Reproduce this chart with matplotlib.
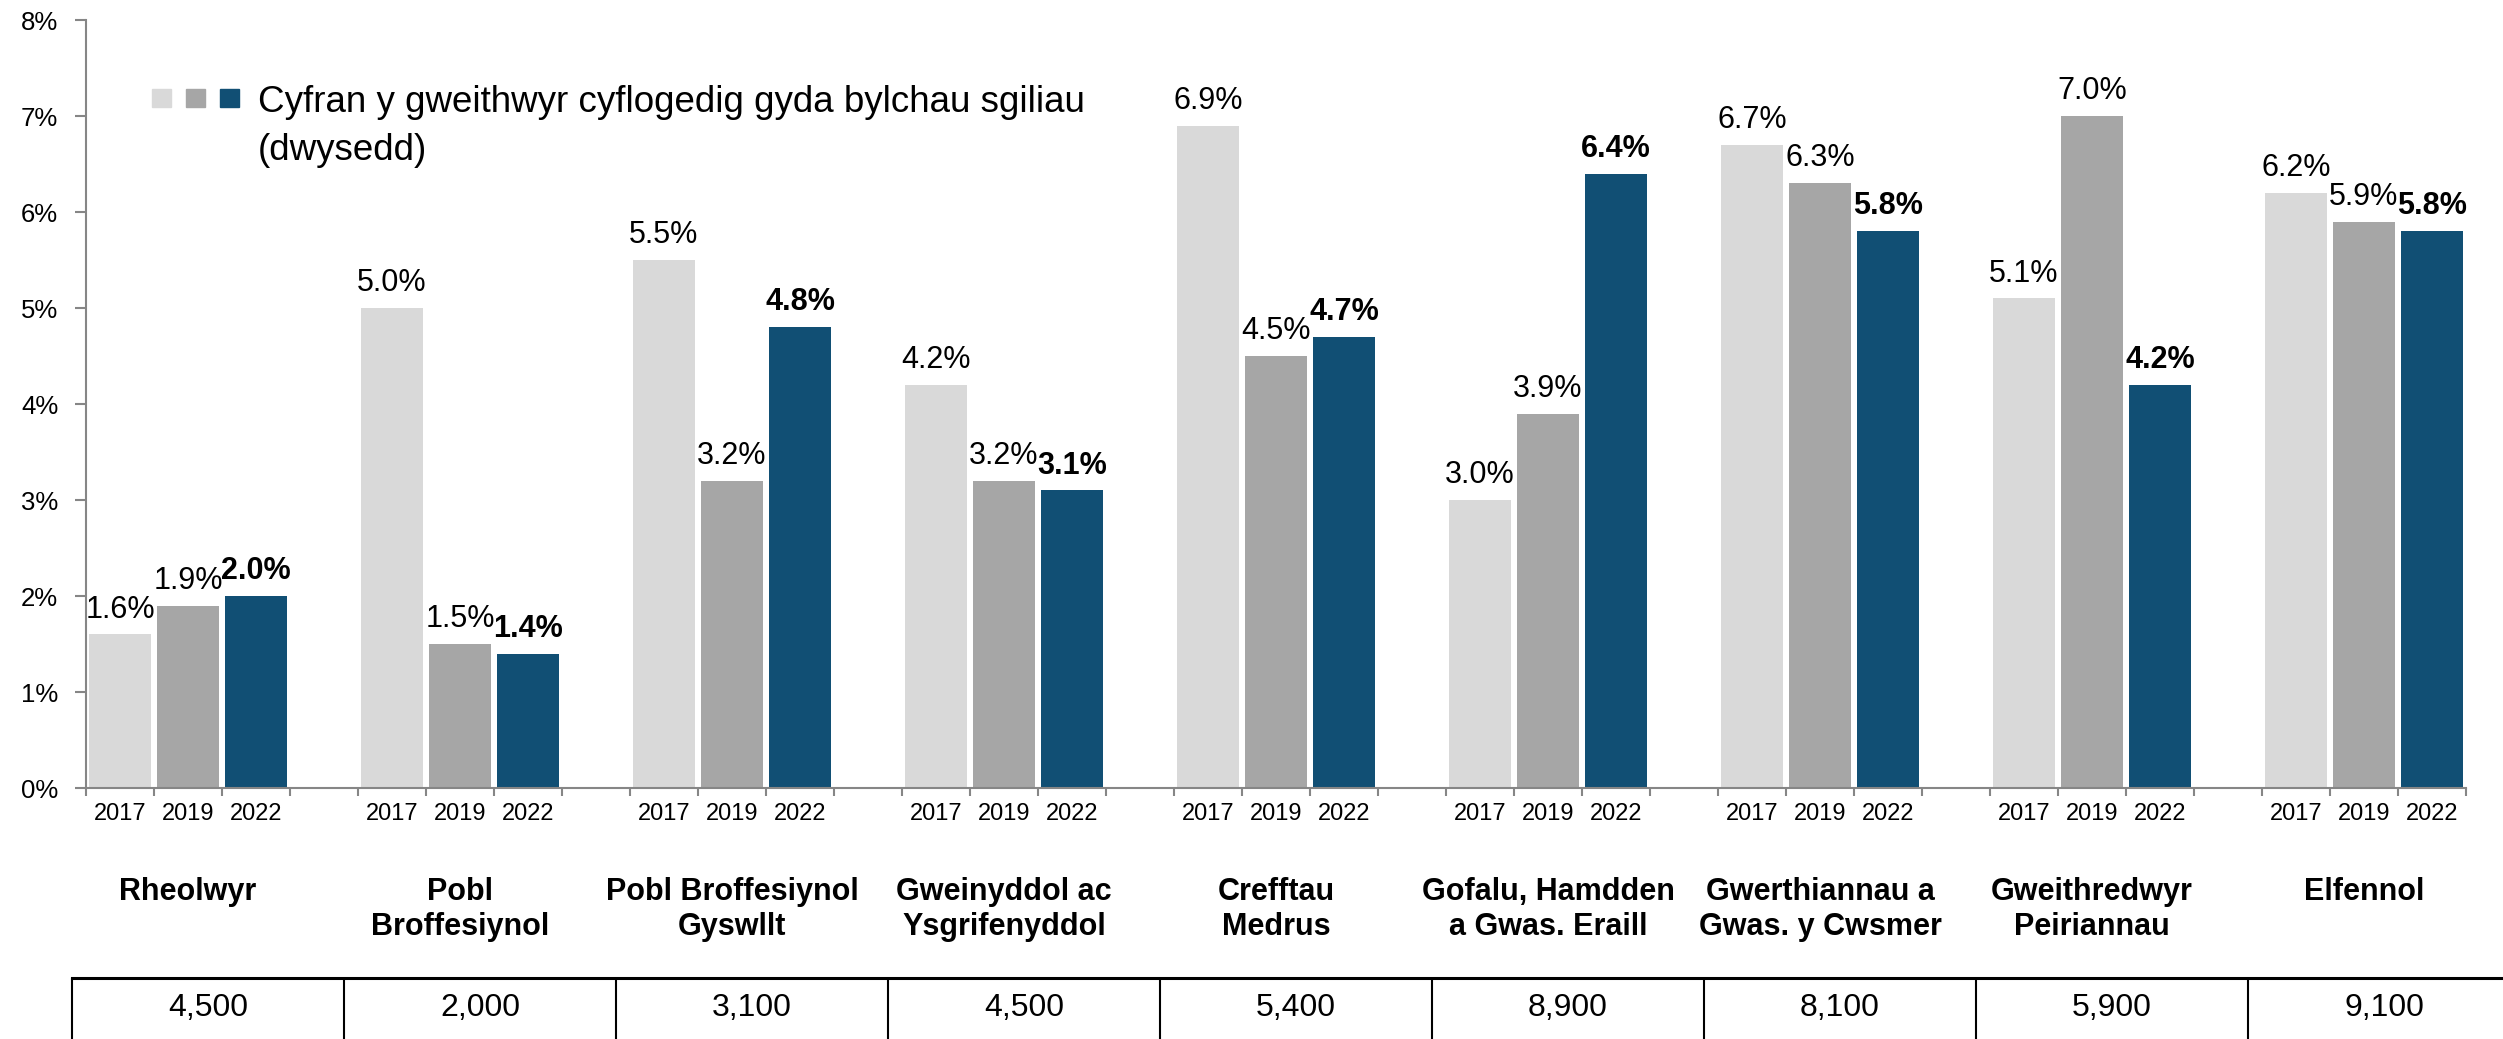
import matplotlib.pyplot as plt
from matplotlib.patches import Rectangle
import numpy as np

plt.rcParams['font.family'] = ['Liberation Sans', 'DejaVu Sans']

# data
categories = ['Rheolwyr', 'Pobl\nBroffesiynol', 'Pobl Broffesiynol\nGyswllt',
              'Gweinyddol ac\nYsgrifenyddol', 'Crefftau\nMedrus',
              'Gofalu, Hamdden\na Gwas. Eraill', 'Gwerthiannau a\nGwas. y Cwsmer',
              'Gweithredwyr\nPeiriannau', 'Elfennol']
years = ['2017', '2019', '2022']
share_2017 = [1.6, 5.0, 5.5, 4.2, 6.9, 3.0, 6.7, 5.1, 6.2]
share_2019 = [1.9, 1.5, 3.2, 3.2, 4.5, 3.9, 6.3, 7.0, 5.9]
share_2022 = [2.0, 1.4, 4.8, 3.1, 4.7, 6.4, 5.8, 4.2, 5.8]
workers = ['4,500', '2,000', '3,100', '4,500', '5,400', '8,900', '8,100', '5,900', '9,100']
legend_label = 'Cyfran y gweithwyr cyflogedig gyda bylchau sgiliau\n(dwysedd)'

colors = ['#D9D9D9', '#A6A6A6', '#114F74']
axis_grey = '#868686'
W, H = 2503, 1039

fig = plt.figure(figsize=(W / 100, H / 100), dpi=100)
ax = fig.add_axes([86 / W, 1 - 788 / H, (2466 - 86) / W, 768 / H])

n = len(categories)
group_x = np.arange(n) * 4
series = [share_2017, share_2019, share_2022]

for j, (vals, col) in enumerate(zip(series, colors)):
    x = group_x + j
    ax.bar(x, vals, width=0.92, color=col, zorder=2)
    weight = 'bold' if j == 2 else 'normal'
    for xi, v in zip(x, vals):
        ax.annotate(f'{v:.1f}%', (xi, v), xytext=(0, 7), textcoords='offset points',
                    ha='center', va='bottom', fontsize=22, fontweight=weight)

ax.set_xlim(-0.5, 4 * n - 1.5)
ax.set_ylim(0, 8)
ax.set_yticks(range(9))
ax.set_yticklabels([f'{i}%' for i in range(9)])

# tick marks between the slots, year labels under the bars
ax.set_xticks(np.arange(-0.5, 4 * n - 1.4, 1))
ax.set_xticklabels([])
ax.set_xticks([g * 4 + j for g in range(n) for j in range(3)], minor=True)
ax.set_xticklabels(years * n, minor=True)
ax.tick_params(axis='x', which='minor', length=0, labelsize=17, pad=11)
ax.tick_params(axis='x', which='major', length=6, width=1.5, color=axis_grey)
ax.tick_params(axis='y', length=8, width=1.5, color=axis_grey, labelsize=18.5, pad=12)

for s in ['top', 'right']:
    ax.spines[s].set_visible(False)
for s in ['left', 'bottom']:
    ax.spines[s].set_color(axis_grey)
    ax.spines[s].set_linewidth(1.5)

# category names
for gx, name in zip(group_x, categories):
    ax.text(gx + 1, -0.116, name, transform=ax.get_xaxis_transform(), ha='center', va='top',
            fontsize=22, fontweight='bold', multialignment='center', linespacing=1.2)

# legend: three squares + one label
for k, col in enumerate(colors):
    x0 = 152 + k * 34
    fig.add_artist(Rectangle((x0 / W, 1 - 107 / H), 19 / W, 18 / H,
                             transform=fig.transFigure, color=col))
fig.text(258 / W, 1 - 160 / H, legend_label, va='baseline', ha='left',
         fontsize=26.5, linespacing=1.48)

# table of worker counts
tab = fig.add_axes([72 / W, 0, 272 * n / W, (H - 978) / H])
tab.set_xlim(0, n)
tab.set_ylim(0, 1)
tab.axis('off')
tab.axhline(1, color='black', lw=2.2, clip_on=False)
tab.vlines(range(n), 0, 1, color='black', lw=1.5, clip_on=False)
for k, txt in enumerate(workers):
    tab.text(k + 0.5, 0.5, txt, ha='center', va='center', fontsize=23)

fig.savefig('out.png', dpi=100)
